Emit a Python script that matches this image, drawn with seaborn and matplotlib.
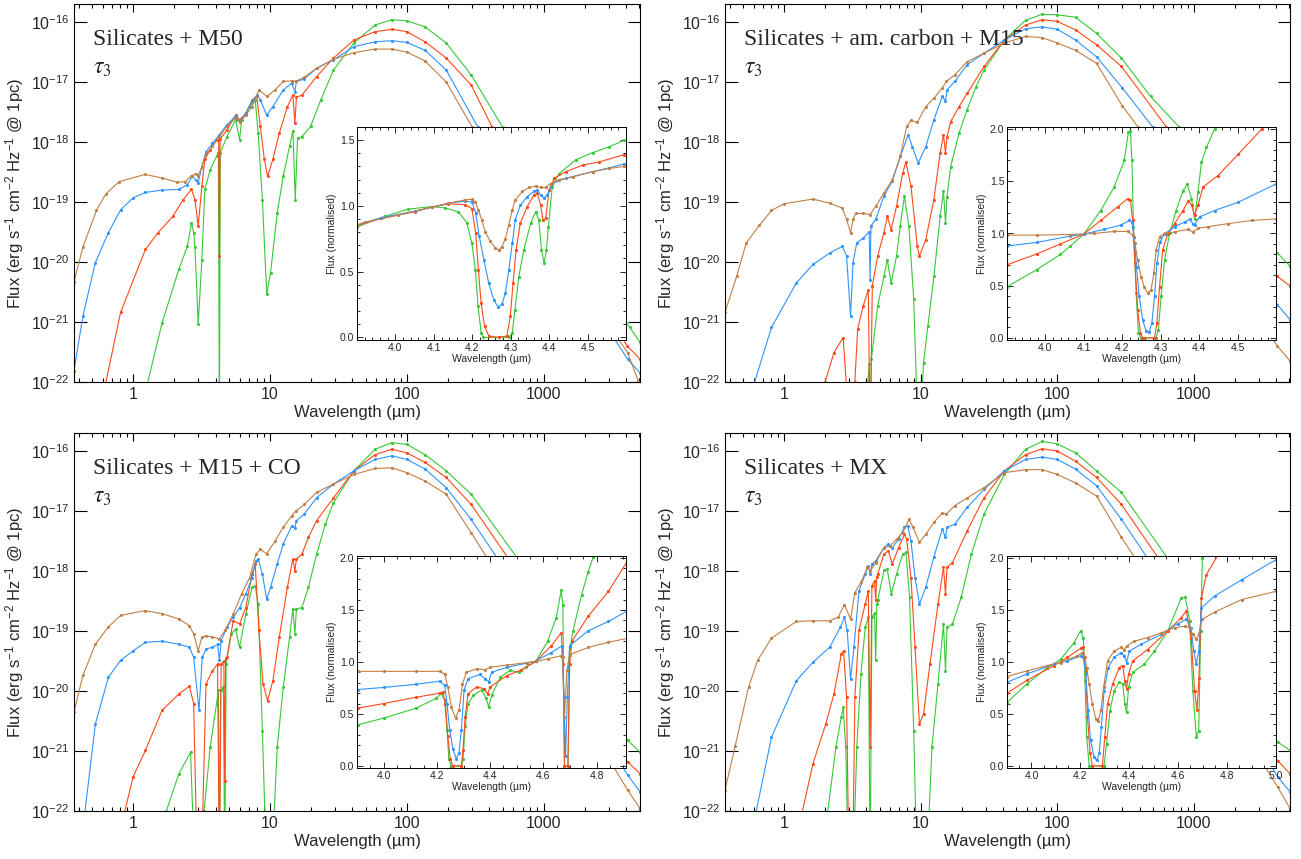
import numpy as np
import matplotlib
matplotlib.use("Agg")
import matplotlib.pyplot as plt
import matplotlib.ticker as mticker
import seaborn as sns

# ---------------- DATA (wavelength in micron, flux as log10 erg s-1 cm-2 Hz-1) ----------------
# Panel 1: Silicates + M50
p1_brown_wl = [0.37, 0.43, 0.54, 0.63, 0.79, 1.22, 1.63, 2.09, 2.40, 2.67, 2.87, 2.99, 3.18, 3.41, 3.8, 4.27, 4.85, 5.6, 6.0, 6.66, 7.4, 8.3, 9.5, 10.9, 12.5, 14.4, 15.4, 17.8, 21.9, 29.1, 41, 58.6, 77.7, 100, 136, 194, 300, 4100, 4900]
p1_brown_lf = [-20.33, -19.75, -19.14, -18.87, -18.66, -18.54, -18.60, -18.67, -18.66, -18.56, -18.53, -18.56, -18.41, -18.20, -18.07, -17.91, -17.74, -17.60, -17.67, -17.55, -17.41, -17.13, -17.24, -17.13, -16.99, -16.98, -16.99, -16.92, -16.77, -16.62, -16.51, -16.45, -16.45, -16.50, -16.65, -17.0, -17.75, -21.51, -21.98]
p1_blue_wl = [0.37, 0.43, 0.53, 0.66, 0.81, 1.0, 1.23, 1.63, 2.16, 2.49, 2.71, 2.87, 2.99, 3.18, 3.41, 3.8, 4.27, 4.85, 5.6, 6.0, 6.66, 7.4, 8.05, 8.5, 9.46, 10.5, 12.5, 14.4, 15.2, 15.6, 17.8, 21.9, 29.1, 41, 58.6, 77.7, 100, 136, 194, 330, 4100, 5060]
p1_blue_lf = [-21.81, -20.90, -20.01, -19.51, -19.13, -18.93, -18.84, -18.80, -18.79, -18.71, -18.57, -18.63, -18.68, -18.41, -18.16, -18.02, -17.88, -17.71, -17.57, -17.66, -17.52, -17.32, -17.21, -17.30, -17.55, -17.41, -17.13, -17.02, -17.16, -16.99, -16.95, -16.77, -16.63, -16.41, -16.33, -16.31, -16.34, -16.47, -16.80, -17.75, -21.62, -21.85]
p1_red_wl = [0.62, 0.81, 1.23, 1.52, 1.95, 2.32, 2.67, 2.83, 2.99, 3.18, 3.34, 3.66, 4.07, 4.22, 4.27, 4.32, 4.85, 5.6, 6.0, 6.66, 7.4, 8.0, 8.5, 9.1, 9.6, 10.5, 11.7, 13.4, 14.7, 15.2, 15.6, 17.1, 21.9, 29.1, 41, 58.6, 77.7, 100, 136, 194, 295, 420, 4080, 5060]
p1_red_lf = [-22.1, -20.84, -19.79, -19.51, -19.24, -18.96, -18.79, -18.96, -19.40, -18.74, -18.29, -18.13, -17.96, -17.95, -19.90, -17.95, -17.80, -17.55, -17.63, -17.52, -17.30, -17.24, -17.74, -18.29, -18.57, -18.29, -17.85, -17.41, -17.22, -17.69, -17.25, -17.22, -16.91, -16.60, -16.30, -16.16, -16.12, -16.16, -16.33, -16.60, -17.05, -17.75, -21.40, -21.62]
p1_green_wl = [1.25, 1.63, 2.16, 2.49, 2.67, 2.77, 2.83, 2.99, 3.18, 3.34, 3.66, 4.07, 4.2, 4.27, 4.33, 4.85, 5.6, 6.0, 6.2, 7.1, 7.8, 8.2, 8.8, 9.46, 10.1, 11.3, 12.5, 13.9, 14.7, 15.3, 15.9, 17.1, 19.8, 23.5, 29.1, 41, 58.6, 77.7, 100, 136, 194, 295, 500, 4250, 5060]
p1_green_lf = [-22.1, -21.01, -20.12, -19.74, -19.35, -19.51, -19.75, -21.04, -19.96, -18.79, -18.46, -18.24, -18.18, -23.0, -18.18, -17.91, -17.63, -17.96, -17.63, -17.41, -17.30, -17.85, -18.96, -20.54, -20.18, -19.18, -18.57, -18.07, -17.82, -18.96, -17.93, -17.91, -17.74, -17.30, -16.80, -16.35, -16.05, -15.96, -15.98, -16.08, -16.35, -16.88, -17.75, -21.09, -21.34]

# Panel 2: Silicates + am. carbon + M15
p2_brown_wl = [0.37, 0.45, 0.53, 0.66, 0.81, 1.0, 1.63, 2.16, 2.67, 2.87, 3.07, 3.2, 3.34, 3.8, 4.27, 4.69, 5.39, 6.2, 7.1, 7.9, 8.5, 9.46, 10.9, 12.5, 14.4, 15.4, 17.8, 21.9, 29.1, 41, 58.6, 77.7, 100, 136, 194, 300, 390, 4080, 5060]
p2_brown_lf = [-20.84, -20.24, -19.68, -19.39, -19.14, -19.03, -18.95, -19.02, -19.10, -19.29, -19.51, -19.29, -19.19, -19.19, -19.21, -19.07, -18.85, -18.63, -18.24, -17.74, -17.64, -17.67, -17.41, -17.27, -17.10, -16.99, -16.88, -16.66, -16.52, -16.35, -16.24, -16.26, -16.35, -16.47, -16.69, -17.40, -17.75, -21.40, -21.65]
p2_blue_wl = [0.60, 0.81, 1.23, 1.63, 2.16, 2.67, 2.87, 3.07, 3.2, 3.41, 3.8, 4.2, 4.27, 4.33, 4.69, 5.39, 6.2, 7.1, 8.1, 8.7, 9.6, 10.9, 12.5, 14.4, 15.2, 15.6, 17.8, 21.9, 29.1, 41, 58.6, 77.7, 100, 136, 194, 300, 500, 4080, 5060]
p2_blue_lf = [-22.05, -21.09, -20.35, -20.04, -19.85, -19.74, -19.90, -20.90, -20.01, -19.68, -19.60, -19.50, -20.30, -19.40, -19.29, -18.90, -18.65, -18.24, -17.88, -18.08, -18.35, -18.08, -17.63, -17.24, -17.32, -17.13, -16.99, -16.71, -16.52, -16.30, -16.11, -16.08, -16.12, -16.30, -16.58, -17.10, -17.75, -20.71, -20.96]
p2_red_wl = [2.0, 2.32, 2.71, 2.87, 3.07, 3.30, 3.46, 3.8, 4.14, 4.27, 4.43, 4.85, 5.39, 5.7, 6.08, 6.66, 7.4, 7.8, 8.5, 9.46, 9.8, 10.9, 12.5, 13.9, 14.7, 15.2, 15.6, 16.6, 19.1, 21.9, 29.1, 41, 58.6, 77.7, 100, 136, 194, 295, 630, 4080, 5060]
p2_red_lf = [-22.0, -21.51, -21.26, -22.1, -23.0, -22.0, -21.12, -20.73, -20.46, -23.0, -20.40, -19.90, -19.51, -19.24, -19.46, -19.07, -18.51, -18.33, -18.74, -19.74, -19.90, -19.63, -18.96, -18.18, -17.88, -18.18, -17.91, -17.66, -17.41, -17.19, -16.74, -16.30, -16.05, -15.96, -15.99, -16.13, -16.38, -16.74, -17.75, -20.24, -20.40]
p2_green_wl = [4.1, 4.2, 4.27, 4.36, 4.85, 5.39, 5.7, 6.08, 6.66, 7.1, 7.6, 8.2, 8.9, 9.46, 10.1, 10.5, 11.3, 12.5, 13.9, 14.7, 15.2, 15.6, 16.6, 19.1, 21.9, 25.4, 29.1, 41, 58.6, 77.7, 100, 136, 194, 295, 482, 780, 4080, 5060]
p2_green_lf = [-22.05, -21.7, -23.0, -21.62, -20.73, -20.24, -19.96, -20.35, -19.90, -19.40, -18.90, -19.40, -20.62, -22.5, -22.5, -21.68, -21.07, -20.24, -19.24, -18.82, -19.35, -18.91, -18.41, -17.85, -17.46, -17.08, -16.80, -16.30, -15.97, -15.87, -15.88, -15.92, -16.19, -16.60, -17.24, -17.75, -19.85, -20.07]

# Panel 3: Silicates + M15 + CO
p3_brown_wl = [0.37, 0.43, 0.53, 0.66, 0.81, 1.22, 1.63, 2.16, 2.58, 2.77, 2.99, 3.18, 3.41, 3.8, 4.27, 4.69, 5.39, 6.2, 7.1, 7.9, 8.5, 9.46, 10.9, 12.5, 14.4, 15.4, 17.8, 21.9, 29.1, 41, 58.6, 77.7, 100, 136, 194, 295, 380, 4100, 5060]
p3_brown_lf = [-20.35, -19.74, -19.22, -18.93, -18.74, -18.66, -18.71, -18.80, -18.91, -19.05, -19.33, -19.10, -19.08, -19.10, -19.13, -18.99, -18.72, -18.38, -18.11, -17.72, -17.64, -17.71, -17.50, -17.27, -17.08, -17.00, -16.89, -16.69, -16.55, -16.39, -16.29, -16.28, -16.36, -16.50, -16.72, -17.36, -17.76, -21.65, -21.96]
p3_blue_wl = [0.44, 0.53, 0.66, 0.81, 1.0, 1.23, 1.63, 2.16, 2.58, 2.77, 3.03, 3.2, 3.41, 3.8, 4.14, 4.27, 4.4, 4.85, 5.39, 6.0, 6.66, 7.4, 7.9, 8.2, 8.8, 9.46, 10.1, 11.3, 12.5, 14.4, 15.2, 15.6, 17.8, 21.9, 29.1, 41, 58.6, 77.7, 100, 136, 194, 295, 450, 4100, 5060]
p3_blue_lf = [-22.1, -20.55, -19.77, -19.49, -19.33, -19.19, -19.17, -19.22, -19.27, -19.44, -20.32, -19.44, -19.30, -19.27, -19.22, -19.49, -19.16, -18.94, -18.77, -18.61, -18.38, -18.11, -17.83, -17.80, -18.05, -18.47, -18.27, -17.88, -17.55, -17.25, -17.28, -17.16, -17.05, -16.78, -16.55, -16.33, -16.14, -16.08, -16.14, -16.30, -16.61, -17.14, -17.76, -21.40, -21.68]
p3_red_wl = [0.86, 1.0, 1.23, 1.63, 2.16, 2.58, 2.77, 2.9, 3.07, 3.23, 3.41, 3.8, 4.14, 4.27, 4.4, 4.6, 4.67, 4.74, 4.85, 5.39, 6.0, 6.66, 7.4, 7.8, 8.3, 8.9, 9.6, 10.5, 11.7, 13.4, 14.7, 15.2, 15.6, 17.1, 19.1, 21.9, 29.1, 41, 58.6, 77.7, 100, 136, 194, 295, 540, 4100, 5060]
p3_red_lf = [-22.05, -21.43, -20.99, -20.32, -20.05, -19.92, -20.21, -22.3, -23.0, -22.0, -19.88, -19.66, -19.55, -23.0, -19.55, -19.50, -21.5, -19.45, -19.44, -18.83, -18.88, -18.61, -18.05, -17.88, -18.99, -19.88, -20.16, -19.83, -19.10, -18.27, -17.80, -18.00, -17.80, -17.72, -17.44, -17.16, -16.78, -16.33, -16.06, -15.97, -16.03, -16.19, -16.44, -16.89, -17.76, -21.18, -21.38]
p3_green_wl = [1.75, 2.16, 2.63, 2.77, 3.03, 3.30, 3.66, 4.07, 4.2, 4.27, 4.36, 4.57, 4.67, 4.78, 5.2, 5.6, 6.0, 6.66, 7.4, 7.8, 8.2, 8.8, 9.3, 10.5, 11.3, 12.5, 13.9, 14.7, 15.2, 15.6, 17.1, 19.1, 21.9, 25.4, 29.1, 41, 58.6, 77.7, 100, 136, 194, 295, 630, 4100, 5060]
p3_green_lf = [-22.0, -21.38, -21.02, -22.5, -23.0, -22.0, -20.93, -20.21, -19.99, -23.0, -19.99, -19.94, -23.0, -19.55, -19.05, -18.97, -19.27, -18.72, -18.27, -18.25, -18.55, -20.66, -22.5, -22.5, -20.93, -19.94, -19.10, -18.63, -19.05, -18.63, -18.61, -18.27, -17.72, -17.22, -16.86, -16.33, -15.97, -15.86, -15.89, -16.06, -16.33, -16.72, -17.76, -20.82, -21.02]

# Panel 4: Silicates + MX
p4_brown_wl = [0.37, 0.44, 0.55, 0.64, 0.81, 1.23, 1.63, 2.16, 2.49, 2.77, 3.07, 3.30, 3.66, 4.07, 4.27, 4.69, 5.39, 6.0, 6.66, 7.4, 8.2, 8.8, 9.8, 10.9, 12.5, 14.4, 15.4, 17.8, 21.9, 29.1, 41, 58.6, 77.7, 100, 136, 194, 295, 365, 4100, 5060]
p4_brown_lf = [-21.65, -20.91, -19.94, -19.49, -19.12, -18.84, -18.83, -18.83, -18.77, -18.56, -18.80, -18.36, -18.19, -17.94, -18.00, -17.86, -17.61, -17.58, -17.47, -17.36, -17.14, -17.27, -17.52, -17.39, -17.19, -17.03, -17.05, -16.91, -16.78, -16.61, -16.36, -16.31, -16.31, -16.39, -16.53, -16.75, -17.44, -17.76, -21.60, -21.96]
p4_blue_wl = [0.62, 0.81, 1.23, 1.63, 2.16, 2.58, 2.77, 2.9, 3.07, 3.25, 3.54, 3.93, 4.14, 4.27, 4.4, 4.69, 5.39, 5.8, 6.2, 6.9, 7.6, 8.05, 8.5, 9.1, 9.8, 10.9, 12.5, 14.4, 15.2, 15.6, 17.8, 21.9, 29.1, 41, 58.6, 77.7, 100, 136, 194, 295, 450, 4100, 5060]
p4_blue_lf = [-22.05, -20.77, -19.83, -19.52, -19.27, -18.94, -18.77, -18.99, -19.80, -19.27, -18.33, -18.05, -17.91, -18.05, -17.88, -17.83, -17.61, -17.55, -17.61, -17.47, -17.27, -17.25, -17.50, -18.11, -18.55, -18.27, -17.77, -17.30, -17.44, -17.27, -17.22, -16.94, -16.64, -16.33, -16.14, -16.10, -16.14, -16.30, -16.58, -17.14, -17.76, -21.43, -21.68]
p4_red_wl = [1.35, 1.63, 2.02, 2.32, 2.63, 2.73, 2.87, 2.99, 3.18, 3.30, 3.54, 3.93, 4.14, 4.27, 4.4, 4.6, 4.69, 4.78, 4.85, 5.39, 5.8, 6.2, 6.9, 7.6, 7.9, 8.5, 9.1, 9.8, 10.5, 11.7, 13.4, 14.7, 15.2, 15.6, 17.1, 21.9, 29.1, 41, 58.6, 77.7, 100, 136, 194, 295, 540, 4100, 5060]
p4_red_lf = [-22.05, -21.21, -20.55, -20.05, -19.38, -19.33, -20.10, -23.0, -23.0, -20.10, -18.99, -18.55, -18.33, -20.93, -18.25, -18.16, -18.49, -18.10, -18.05, -17.72, -17.66, -17.88, -17.61, -17.39, -17.47, -18.11, -19.27, -20.55, -20.38, -19.55, -18.55, -17.94, -18.38, -17.94, -17.86, -17.33, -16.78, -16.33, -16.06, -15.96, -16.00, -16.17, -16.44, -16.89, -17.76, -21.16, -21.38]
p4_green_wl = [2.08, 2.40, 2.63, 2.71, 2.83, 2.93, 3.25, 3.41, 3.66, 3.93, 4.14, 4.27, 4.4, 4.6, 4.69, 4.78, 4.85, 5.39, 5.7, 6.1, 6.66, 7.4, 7.8, 8.3, 8.9, 9.3, 11.3, 12.1, 13.4, 14.7, 15.2, 15.6, 17.1, 19.8, 23.5, 29.1, 41, 58.6, 77.7, 100, 136, 194, 295, 630, 4100, 5060]
p4_green_lf = [-22.05, -20.93, -20.43, -20.27, -20.93, -22.5, -22.5, -20.93, -19.71, -18.94, -18.77, -23.0, -18.77, -18.70, -19.49, -18.55, -18.49, -17.99, -17.97, -18.38, -18.05, -17.72, -17.69, -18.44, -20.66, -22.5, -22.5, -20.93, -19.88, -18.88, -19.66, -18.94, -18.88, -18.44, -17.72, -17.05, -16.39, -15.97, -15.84, -15.88, -16.03, -16.33, -16.69, -17.76, -20.85, -20.99]

# Insets: wavelength (micron) and normalised flux
i1_brown_x = [3.90, 3.92, 4.007, 4.094, 4.138, 4.18, 4.199, 4.208, 4.216, 4.225, 4.234, 4.247, 4.26, 4.269, 4.277, 4.286, 4.295, 4.304, 4.312, 4.33, 4.347, 4.365, 4.378, 4.391, 4.404, 4.426, 4.461, 4.513, 4.557, 4.596]
i1_brown_y = [0.855, 0.875, 0.93, 0.99, 1.02, 1.045, 1.05, 1.03, 0.97, 0.89, 0.80, 0.73, 0.68, 0.665, 0.69, 0.75, 0.855, 0.97, 1.045, 1.11, 1.14, 1.15, 1.14, 1.14, 1.17, 1.20, 1.22, 1.26, 1.285, 1.30]
i1_blue_x = [3.90, 3.963, 4.05, 4.094, 4.138, 4.18, 4.199, 4.209, 4.218, 4.23, 4.243, 4.256, 4.267, 4.277, 4.286, 4.295, 4.304, 4.312, 4.325, 4.343, 4.36, 4.369, 4.378, 4.387, 4.395, 4.408, 4.443, 4.513, 4.557, 4.596]
i1_blue_y = [0.855, 0.91, 0.96, 0.99, 1.02, 1.035, 1.03, 0.945, 0.77, 0.59, 0.41, 0.285, 0.23, 0.25, 0.335, 0.51, 0.715, 0.895, 1.005, 1.07, 1.11, 1.12, 1.08, 1.06, 1.08, 1.17, 1.21, 1.26, 1.29, 1.32]
i1_red_x = [3.90, 3.963, 4.05, 4.094, 4.138, 4.18, 4.199, 4.209, 4.216, 4.223, 4.232, 4.243, 4.269, 4.29, 4.299, 4.306, 4.314, 4.325, 4.343, 4.36, 4.369, 4.378, 4.384, 4.391, 4.40, 4.413, 4.443, 4.487, 4.531, 4.596]
i1_red_y = [0.85, 0.905, 0.955, 0.99, 1.015, 1.01, 0.98, 0.79, 0.51, 0.26, 0.085, 0.01, 0.0, 0.01, 0.16, 0.41, 0.665, 0.87, 0.995, 1.08, 1.095, 1.005, 0.89, 0.905, 1.12, 1.21, 1.26, 1.31, 1.335, 1.39]
i1_green_x = [3.90, 3.972, 4.033, 4.094, 4.129, 4.164, 4.186, 4.199, 4.208, 4.215, 4.223, 4.229, 4.269, 4.295, 4.304, 4.311, 4.321, 4.334, 4.352, 4.365, 4.373, 4.38, 4.387, 4.393, 4.398, 4.408, 4.426, 4.469, 4.513, 4.557, 4.596]
i1_green_y = [0.84, 0.92, 0.975, 0.995, 0.985, 0.955, 0.87, 0.715, 0.515, 0.235, 0.035, 0.0, 0.0, 0.0, 0.035, 0.21, 0.46, 0.665, 0.87, 0.955, 0.895, 0.665, 0.565, 0.665, 0.84, 1.145, 1.245, 1.35, 1.405, 1.45, 1.50]

i2_brown_x = [3.90, 3.978, 4.065, 4.127, 4.179, 4.214, 4.227, 4.233, 4.24, 4.249, 4.257, 4.266, 4.275, 4.282, 4.288, 4.297, 4.31, 4.336, 4.371, 4.384, 4.397, 4.423, 4.476, 4.537, 4.60]
i2_brown_y = [0.985, 0.985, 0.99, 1.0, 1.02, 1.02, 0.985, 0.905, 0.745, 0.587, 0.49, 0.43, 0.46, 0.62, 0.84, 0.97, 1.0, 1.015, 1.04, 1.015, 1.05, 1.065, 1.095, 1.125, 1.14]
i2_blue_x = [3.90, 3.978, 4.065, 4.10, 4.153, 4.196, 4.218, 4.225, 4.231, 4.237, 4.244, 4.253, 4.262, 4.27, 4.277, 4.284, 4.29, 4.298, 4.31, 4.336, 4.362, 4.375, 4.384, 4.388, 4.401, 4.44, 4.502, 4.60]
i2_blue_y = [0.88, 0.915, 0.975, 0.995, 1.04, 1.08, 1.125, 1.11, 0.97, 0.68, 0.40, 0.175, 0.065, 0.055, 0.145, 0.40, 0.715, 0.92, 0.995, 1.065, 1.11, 1.135, 1.095, 1.08, 1.16, 1.22, 1.30, 1.475]
i2_red_x = [3.90, 3.978, 4.039, 4.10, 4.144, 4.188, 4.214, 4.221, 4.227, 4.233, 4.24, 4.247, 4.253, 4.284, 4.29, 4.297, 4.305, 4.318, 4.336, 4.358, 4.371, 4.381, 4.388, 4.397, 4.41, 4.449, 4.502, 4.563, 4.60]
i2_red_y = [0.70, 0.805, 0.90, 0.995, 1.125, 1.255, 1.335, 1.32, 1.125, 0.715, 0.27, 0.048, 0.0, 0.0, 0.143, 0.49, 0.84, 0.995, 1.095, 1.22, 1.31, 1.27, 1.175, 1.27, 1.445, 1.555, 1.76, 2.0, 2.11]
i2_green_x = [3.90, 3.978, 4.039, 4.065, 4.10, 4.144, 4.179, 4.205, 4.216, 4.221, 4.225, 4.229, 4.236, 4.242, 4.249, 4.288, 4.294, 4.301, 4.31, 4.323, 4.34, 4.358, 4.369, 4.38, 4.388, 4.397, 4.406, 4.419, 4.44, 4.458]
i2_green_y = [0.49, 0.655, 0.80, 0.88, 0.995, 1.22, 1.445, 1.70, 1.97, 1.985, 1.70, 1.065, 0.43, 0.048, 0.0, 0.0, 0.08, 0.40, 0.745, 1.0, 1.22, 1.41, 1.47, 1.335, 1.14, 1.395, 1.68, 1.825, 2.0, 2.11]

i3_brown_x = [3.902, 4.0, 4.121, 4.21, 4.229, 4.241, 4.254, 4.27, 4.283, 4.296, 4.311, 4.349, 4.381, 4.40, 4.463, 4.54, 4.571, 4.616, 4.667, 4.672, 4.679, 4.688, 4.698, 4.768, 4.844, 4.92]
i3_brown_y = [0.91, 0.91, 0.91, 0.91, 0.885, 0.76, 0.57, 0.46, 0.54, 0.79, 0.90, 0.935, 0.925, 0.95, 0.97, 0.995, 1.005, 1.03, 1.06, 1.045, 0.475, 0.92, 1.07, 1.14, 1.19, 1.23]
i3_blue_x = [3.902, 4.0, 4.121, 4.21, 4.229, 4.238, 4.248, 4.26, 4.273, 4.283, 4.292, 4.302, 4.317, 4.362, 4.381, 4.394, 4.406, 4.463, 4.54, 4.571, 4.629, 4.669, 4.677, 4.683, 4.69, 4.698, 4.768, 4.844, 4.92]
i3_blue_y = [0.735, 0.755, 0.785, 0.815, 0.775, 0.60, 0.35, 0.16, 0.07, 0.127, 0.35, 0.73, 0.84, 0.88, 0.84, 0.81, 0.90, 0.95, 0.99, 1.01, 1.09, 1.155, 0.665, 0.095, 0.665, 1.155, 1.30, 1.39, 1.50]
i3_red_x = [3.902, 4.0, 4.121, 4.21, 4.222, 4.232, 4.241, 4.25, 4.26, 4.292, 4.298, 4.306, 4.317, 4.349, 4.375, 4.39, 4.40, 4.463, 4.514, 4.571, 4.629, 4.667, 4.674, 4.679, 4.692, 4.698, 4.707, 4.768, 4.844, 4.92]
i3_red_y = [0.555, 0.60, 0.66, 0.70, 0.71, 0.60, 0.285, 0.063, 0.0, 0.0, 0.158, 0.475, 0.695, 0.76, 0.745, 0.695, 0.76, 0.87, 0.92, 1.005, 1.155, 1.28, 0.98, 0.0, 0.0, 0.98, 1.20, 1.44, 1.68, 1.99]
i3_green_x = [3.902, 4.0, 4.121, 4.197, 4.216, 4.229, 4.238, 4.245, 4.254, 4.292, 4.298, 4.306, 4.317, 4.337, 4.368, 4.385, 4.394, 4.406, 4.438, 4.476, 4.508, 4.533, 4.571, 4.616, 4.648, 4.667, 4.673, 4.679, 4.692, 4.70, 4.711, 4.743, 4.768, 4.787]
i3_green_y = [0.395, 0.46, 0.555, 0.65, 0.70, 0.63, 0.35, 0.063, 0.0, 0.0, 0.063, 0.38, 0.60, 0.68, 0.73, 0.65, 0.57, 0.68, 0.855, 0.92, 0.90, 0.95, 1.005, 1.20, 1.425, 1.69, 1.55, 0.0, 0.0, 1.14, 1.30, 1.645, 1.87, 2.01]

i4_brown_x = [3.9, 3.982, 4.064, 4.119, 4.188, 4.208, 4.218, 4.226, 4.236, 4.249, 4.263, 4.273, 4.284, 4.295, 4.311, 4.338, 4.366, 4.379, 4.39, 4.42, 4.475, 4.53, 4.585, 4.626, 4.647, 4.66, 4.674, 4.684, 4.697, 4.749, 4.859, 5.0]
i4_brown_y = [0.86, 0.915, 0.965, 0.995, 1.06, 1.09, 1.045, 0.945, 0.79, 0.595, 0.455, 0.435, 0.535, 0.755, 1.01, 1.105, 1.14, 1.12, 1.155, 1.20, 1.235, 1.28, 1.33, 1.345, 1.33, 1.265, 1.22, 1.265, 1.41, 1.48, 1.60, 1.68]
i4_blue_x = [3.9, 3.982, 4.092, 4.147, 4.201, 4.212, 4.222, 4.232, 4.242, 4.256, 4.267, 4.277, 4.286, 4.297, 4.314, 4.338, 4.366, 4.379, 4.389, 4.40, 4.448, 4.53, 4.599, 4.633, 4.651, 4.664, 4.674, 4.684, 4.695, 4.749, 4.859, 5.0]
i4_blue_y = [0.805, 0.885, 0.98, 1.01, 1.06, 1.05, 0.885, 0.535, 0.245, 0.085, 0.055, 0.12, 0.375, 0.725, 0.945, 1.045, 1.09, 1.06, 0.995, 1.105, 1.17, 1.265, 1.37, 1.41, 1.33, 1.105, 0.98, 1.105, 1.52, 1.635, 1.79, 1.985]
i4_red_x = [3.9, 3.982, 4.092, 4.147, 4.201, 4.212, 4.222, 4.229, 4.24, 4.249, 4.29, 4.30, 4.311, 4.332, 4.359, 4.373, 4.382, 4.389, 4.397, 4.414, 4.475, 4.558, 4.612, 4.633, 4.653, 4.667, 4.677, 4.685, 4.695, 4.715, 4.763]
i4_red_y = [0.70, 0.825, 0.965, 1.045, 1.13, 1.14, 0.915, 0.47, 0.12, 0.0, 0.0, 0.28, 0.595, 0.79, 0.945, 0.965, 0.82, 0.74, 0.885, 1.01, 1.12, 1.30, 1.425, 1.49, 1.235, 0.725, 0.535, 0.85, 1.615, 1.84, 2.03]
i4_green_x = [3.9, 3.982, 4.064, 4.119, 4.174, 4.201, 4.212, 4.219, 4.226, 4.236, 4.297, 4.307, 4.321, 4.338, 4.359, 4.373, 4.382, 4.389, 4.397, 4.414, 4.462, 4.503, 4.558, 4.612, 4.629, 4.647, 4.66, 4.674, 4.684, 4.692, 4.699, 4.703]
i4_green_y = [0.61, 0.79, 0.945, 1.025, 1.185, 1.30, 1.235, 0.82, 0.28, 0.0, 0.0, 0.215, 0.53, 0.725, 0.805, 0.79, 0.595, 0.515, 0.755, 0.90, 0.98, 1.105, 1.30, 1.615, 1.625, 1.395, 0.725, 0.28, 0.34, 1.30, 2.0, 2.25]

panel_titles = ["Silicates + M50", "Silicates + am. carbon + M15",
                "Silicates + M15 + CO", "Silicates + MX"]
x_major_ticks = [1, 10, 100, 1000]
x_major_labels = ["1", "10", "100", "1000"]
y_decades = [-22, -21, -20, -19, -18, -17, -16]

# ---------------- STYLE ----------------
sns.set_style("ticks")
plt.rcParams["font.family"] = ["Liberation Sans", "DejaVu Sans"]
plt.rcParams["axes.linewidth"] = 0.8

C_BROWN = "#C27E45"
C_BLUE = "#2F94FF"
C_RED = "#FF4A1A"
C_GREEN = "#38C838"

W, H = 1301.0, 859.0
fig = plt.figure(figsize=(W / 100, H / 100), dpi=100)


def px_rect(l, r, t, b):
    return [l / W, 1 - b / H, (r - l) / W, (b - t) / H]


def draw_line(ax, x, y, color, ms):
    sns.lineplot(x=np.asarray(x, float), y=np.asarray(y, float), ax=ax, color=color,
                 marker="o", markersize=ms, markeredgewidth=0, linewidth=0.8,
                 estimator=None, sort=False, legend=False)


def draw_main(rect, series, title):
    ax = fig.add_axes(rect)
    ax.set_xscale("log")
    ax.set_yscale("log")
    for wl, lf, col in series:
        draw_line(ax, wl, 10.0 ** np.asarray(lf, float), col, 2.2)
    ax.set_xlim(0.37, 5050)
    ax.set_ylim(1e-22, 2e-16)
    ax.xaxis.set_major_locator(mticker.FixedLocator(x_major_ticks))
    ax.xaxis.set_major_formatter(mticker.FixedFormatter(x_major_labels))
    ax.xaxis.set_minor_locator(mticker.LogLocator(base=10, subs=np.arange(2, 10), numticks=30))
    ax.xaxis.set_minor_formatter(mticker.NullFormatter())
    ax.yaxis.set_major_locator(mticker.FixedLocator([10.0 ** k for k in y_decades]))
    ax.yaxis.set_major_formatter(mticker.FuncFormatter(
        lambda v, p: r"$\mathregular{10^{%d}}$" % int(round(np.log10(v)))))
    ax.yaxis.set_minor_locator(mticker.NullLocator())
    ax.tick_params(axis="both", which="both", direction="in", top=True, right=True,
                   labelsize=11.5, width=0.8, color="black")
    ax.tick_params(axis="x", which="major", length=6)
    ax.tick_params(axis="x", which="minor", length=3)
    ax.tick_params(axis="y", which="major", length=9)
    ax.set_xlabel("Wavelength (µm)", fontsize=12, labelpad=2)
    ax.set_ylabel(r"Flux (erg s$\mathregular{^{-1}}$ cm$\mathregular{^{-2}}$ Hz$\mathregular{^{-1}}$ @ 1pc)",
                  fontsize=12, labelpad=3)
    for s in ax.spines.values():
        s.set_color("black")
    ax.text(0.033, 0.905, title, transform=ax.transAxes, fontsize=17,
            family="Liberation Serif", va="center", ha="left", zorder=5)
    ax.text(0.033, 0.83, r"$\tau_3$", transform=ax.transAxes, fontsize=17,
            math_fontfamily="stix", va="center", ha="left", zorder=5)
    return ax


def draw_inset(rect, series, xlim, ylim, xticks, xminor, yticks):
    ins = fig.add_axes(rect)
    ins.set_facecolor("white")
    for x, y, col in series:
        draw_line(ins, x, y, col, 2.3)
    ins.set_xlim(*xlim)
    ins.set_ylim(*ylim)
    ins.xaxis.set_major_locator(mticker.FixedLocator(xticks))
    ins.xaxis.set_major_formatter(mticker.FormatStrFormatter("%.1f"))
    ins.xaxis.set_minor_locator(mticker.MultipleLocator(xminor))
    ins.yaxis.set_major_locator(mticker.FixedLocator(yticks))
    ins.yaxis.set_major_formatter(mticker.FormatStrFormatter("%.1f"))
    ins.yaxis.set_minor_locator(mticker.MultipleLocator(0.1))
    ins.tick_params(axis="both", which="both", direction="in", top=True, right=True,
                    labelsize=7.5, width=0.7, pad=2)
    ins.tick_params(which="major", length=4)
    ins.tick_params(which="minor", length=2)
    ins.set_xlabel("Wavelength (µm)", fontsize=7.5, labelpad=1)
    ins.set_ylabel("Flux (normalised)", fontsize=7.5, labelpad=2)
    for s in ins.spines.values():
        s.set_color("black")
        s.set_linewidth(0.7)
    return ins


main_rects = [px_rect(74, 640, 4, 382), px_rect(725, 1290, 4, 382),
              px_rect(74, 640, 433, 811), px_rect(725, 1290, 433, 811)]
inset_rects = [px_rect(357, 626, 127, 340), px_rect(1007, 1276, 127, 340),
               px_rect(357, 626, 556, 768), px_rect(1007, 1276, 556, 768)]

main_series = [
    [(p1_green_wl, p1_green_lf, C_GREEN), (p1_red_wl, p1_red_lf, C_RED),
     (p1_blue_wl, p1_blue_lf, C_BLUE), (p1_brown_wl, p1_brown_lf, C_BROWN)],
    [(p2_green_wl, p2_green_lf, C_GREEN), (p2_red_wl, p2_red_lf, C_RED),
     (p2_blue_wl, p2_blue_lf, C_BLUE), (p2_brown_wl, p2_brown_lf, C_BROWN)],
    [(p3_green_wl, p3_green_lf, C_GREEN), (p3_red_wl, p3_red_lf, C_RED),
     (p3_blue_wl, p3_blue_lf, C_BLUE), (p3_brown_wl, p3_brown_lf, C_BROWN)],
    [(p4_green_wl, p4_green_lf, C_GREEN), (p4_red_wl, p4_red_lf, C_RED),
     (p4_blue_wl, p4_blue_lf, C_BLUE), (p4_brown_wl, p4_brown_lf, C_BROWN)],
]
inset_series = [
    [(i1_green_x, i1_green_y, C_GREEN), (i1_red_x, i1_red_y, C_RED),
     (i1_blue_x, i1_blue_y, C_BLUE), (i1_brown_x, i1_brown_y, C_BROWN)],
    [(i2_green_x, i2_green_y, C_GREEN), (i2_red_x, i2_red_y, C_RED),
     (i2_blue_x, i2_blue_y, C_BLUE), (i2_brown_x, i2_brown_y, C_BROWN)],
    [(i3_green_x, i3_green_y, C_GREEN), (i3_red_x, i3_red_y, C_RED),
     (i3_blue_x, i3_blue_y, C_BLUE), (i3_brown_x, i3_brown_y, C_BROWN)],
    [(i4_green_x, i4_green_y, C_GREEN), (i4_red_x, i4_red_y, C_RED),
     (i4_blue_x, i4_blue_y, C_BLUE), (i4_brown_x, i4_brown_y, C_BROWN)],
]
inset_cfg = [
    ((3.9, 4.6), (-0.02, 1.6), [4.0, 4.1, 4.2, 4.3, 4.4, 4.5], 0.02, [0.0, 0.5, 1.0, 1.5]),
    ((3.9, 4.6), (-0.02, 2.02), [4.0, 4.1, 4.2, 4.3, 4.4, 4.5], 0.02, [0.0, 0.5, 1.0, 1.5, 2.0]),
    ((3.9, 4.91), (-0.02, 2.02), [4.0, 4.2, 4.4, 4.6, 4.8], 0.05, [0.0, 0.5, 1.0, 1.5, 2.0]),
    ((3.9, 5.0), (-0.02, 2.02), [4.0, 4.2, 4.4, 4.6, 4.8, 5.0], 0.05, [0.0, 0.5, 1.0, 1.5, 2.0]),
]

for k in range(4):
    draw_main(main_rects[k], main_series[k], panel_titles[k])
for k in range(4):
    xl, yl, xt, xm, yt = inset_cfg[k]
    draw_inset(inset_rects[k], inset_series[k], xl, yl, xt, xm, yt)

fig.savefig("out.png", dpi=100)
